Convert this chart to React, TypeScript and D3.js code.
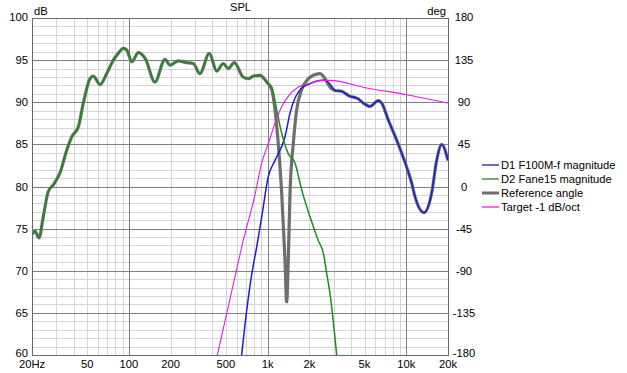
import { useEffect, useRef } from "react";
import * as d3 from "d3";

type Pt = [number, number];

// D2 and the reference run together below ~900 Hz
const lowBand: Pt[] = [
  [20, 74.3], [21, 74.7], [22.5, 73.9], [24.1, 76.4], [26.2, 79.4], [28.5, 80.2],
  [31.8, 81.6], [35.6, 84.3], [38.7, 85.9], [43.2, 87.1], [46.9, 89.9], [52.4, 92.8],
  [55.4, 93.1], [61.9, 92.1], [69.2, 93.4], [77.2, 95.0], [83.8, 95.8], [91, 96.4],
  [96.4, 96.2], [105, 94.8], [117, 95.9], [131, 95.2], [154, 92.4], [182, 95.1],
  [198, 94.4], [227, 94.9], [261, 94.7], [291, 94.6], [325, 93.4], [380, 95.8],
  [430, 93.7], [479, 94.6], [521, 94.0], [575, 94.7], [665, 93.0], [726, 92.8],
  [789, 93.1], [882, 93.2],
];

// reference through the crossover notch
const refMid: Pt[] = [
  [985, 92.4], [1071, 91.5], [1131, 89.1], [1194, 85.1], [1264, 79.2], [1335, 71.3],
  [1373, 66.3], [1410, 71.3], [1451, 79.2], [1532, 85.1], [1621, 89.1], [1762, 91.5],
  [1966, 92.8], [2136, 93.2], [2388, 93.4], [2594, 92.8], [2818, 91.8], [2978, 91.5],
  [3062, 91.4],
];

// D1 and the reference run together above ~3 kHz
const hiBand: Pt[] = [
  [3424, 91.3], [3930, 90.7], [4200, 90.6], [4510, 90.4], [4900, 89.9], [5476, 89.5],
  [6288, 90.2], [6652, 89.9], [7420, 87.9], [8532, 85.5], [10070, 82.3], [10944, 80.4],
  [11562, 78.8], [13424, 76.9], [15240, 79.2], [16570, 83.1], [18012, 85.0], [20000, 83.1],
];

const d1Rise: Pt[] = [
  [650, 60], [707, 65.3], [789, 70.7], [811, 71.7], [907, 76.4], [1012, 81.2],
  [1131, 83.1], [1335, 85.9], [1451, 88.7], [1576, 90.5], [1762, 91.7], [2022, 92.2],
  [2456, 92.6], [2594, 92.6], [2900, 91.9], [3062, 91.4],
];

const d2Tail: Pt[] = [
  [985, 92.4], [1071, 91.8], [1163, 89.1], [1264, 86.3], [1410, 83.9], [1576, 82.8],
  [1762, 79.6], [2022, 76.4], [2320, 73.6], [2522, 72.1], [2668, 69.7], [2818, 67.3],
  [3150, 60],
];

const target: Pt[] = [
  [434, 60], [550, 67.5], [668, 73.6], [811, 79.0], [907, 82.8], [1012, 85.1],
  [1131, 87.5], [1264, 89.5], [1410, 90.7], [1665, 91.8], [1966, 92.2], [2456, 92.6],
  [2818, 92.6], [5186, 91.7], [10070, 90.9], [20000, 89.9],
];

const dbTicks = [60, 65, 70, 75, 80, 85, 90, 95, 100];
const degTicks = [-180, -135, -90, -45, 0, 45, 90, 135, 180];
const freqTicks = [20, 50, 100, 200, 500, 1000, 2000, 5000, 10000, 20000];
const freqLabels = ["20Hz", "50", "100", "200", "500", "1k", "2k", "5k", "10k", "20k"];
const legendNames = ["D1 F100M-f magnitude", "D2 Fane15 magnitude", "Reference angle", "Target -1 dB/oct"];

const FONT = "'Liberation Sans', Arial, sans-serif";

export default function App() {
  const ref = useRef<SVGSVGElement>(null);

  useEffect(() => {
    if (!ref.current) return;
    const svg = d3.select(ref.current);
    svg.selectAll("*").remove();

    const left = 32, right = 448, top = 18, bottom = 355;
    const x = d3.scaleLog().domain([20, 20000]).range([left, right]);
    const y = d3.scaleLinear().domain([60, 100]).range([bottom, top]);
    const yDeg = d3.scaleLinear().domain([-180, 180]).range([bottom, top]);
    const px = (v: number) => Math.round(v) + 0.5;
    // end labels sit a little inside the frame
    const labelY = (v: number) => (v >= top + 1 && v <= bottom - 1 ? v + 4 : v <= top + 1 ? v + 3 : v + 2);

    svg.append("rect").attr("width", 627).attr("height", 373).attr("fill", "#fff");

    // minor grid
    const g = svg.append("g");
    const minorF: number[] = [];
    for (const dec of [10, 100, 1000, 10000]) {
      for (let m = 2; m <= 9; m++) {
        const f = dec * m;
        if (f > 20 && f < 20000) minorF.push(f);
      }
    }
    g.selectAll(".vmin").data(minorF).enter().append("line")
      .attr("x1", (d) => px(x(d))).attr("x2", (d) => px(x(d)))
      .attr("y1", top).attr("y2", bottom)
      .attr("stroke", "#d4d4d4");
    g.selectAll(".hmin").data(d3.range(61, 100).filter((d) => d % 5 !== 0)).enter().append("line")
      .attr("x1", left).attr("x2", right)
      .attr("y1", (d) => px(y(d))).attr("y2", (d) => px(y(d)))
      .attr("stroke", "#d4d4d4");

    // major grid
    g.selectAll(".vmaj").data([100, 1000, 10000]).enter().append("line")
      .attr("x1", (d) => px(x(d))).attr("x2", (d) => px(x(d)))
      .attr("y1", top).attr("y2", bottom)
      .attr("stroke", "#808080");
    g.selectAll(".hmaj").data(dbTicks.slice(1, -1)).enter().append("line")
      .attr("x1", left).attr("x2", right)
      .attr("y1", (d) => px(y(d))).attr("y2", (d) => px(y(d)))
      .attr("stroke", "#808080");

    svg.append("rect")
      .attr("x", left + 0.5).attr("y", top + 0.5)
      .attr("width", right - left).attr("height", bottom - top)
      .attr("fill", "none").attr("stroke", "#6a6a6a");

    // curves
    svg.append("clipPath").attr("id", "plot").append("rect")
      .attr("x", left).attr("y", top).attr("width", right - left).attr("height", bottom - top);
    const line = d3.line<Pt>()
      .x((d) => x(d[0]))
      .y((d) => y(d[1]))
      .curve(d3.curveMonotoneX);
    const curves = svg.append("g").attr("clip-path", "url(#plot)").attr("fill", "none");

    curves.append("path").attr("d", line([...lowBand, ...refMid, ...hiBand]))
      .attr("stroke", "#6e6e6e").attr("stroke-width", 3.2).attr("stroke-linejoin", "round");
    curves.append("path").attr("d", line([...d1Rise, ...hiBand]))
      .attr("stroke", "#1c1cd8").attr("stroke-width", 1.5);
    curves.append("path").attr("d", line([...lowBand, ...d2Tail]))
      .attr("stroke", "#1f8a1f").attr("stroke-width", 1.5);
    curves.append("path").attr("d", line(target))
      .attr("stroke", "#e020e0").attr("stroke-width", 1.1);

    // axis labels
    const txt = svg.append("g").attr("font-family", FONT).attr("font-size", 11.2).attr("fill", "#000");
    txt.selectAll(".yl").data(dbTicks).enter().append("text")
      .attr("x", 28).attr("y", (d) => labelY(y(d))).attr("text-anchor", "end")
      .text((d) => d);
    txt.selectAll(".yr").data(degTicks).enter().append("text")
      .attr("x", 464).attr("y", (d) => labelY(yDeg(d))).attr("text-anchor", "middle")
      .text((d) => d);
    txt.selectAll(".xl").data(freqTicks).enter().append("text")
      .attr("x", (d) => x(d)).attr("y", 368).attr("text-anchor", "middle")
      .text((d, i) => freqLabels[i]);
    txt.append("text").attr("x", 34).attr("y", 15).text("dB");
    txt.append("text").attr("x", 240.5).attr("y", 11).attr("text-anchor", "middle").text("SPL");
    txt.append("text").attr("x", 446).attr("y", 15).attr("text-anchor", "end").text("deg");

    // legend
    const legendColors = ["#1c1cb0", "#1f8a1f", "#6e6e6e", "#e020e0"];
    const legendWidths = [1.3, 1.3, 3, 1.3];
    const lg = svg.append("g");
    legendNames.forEach((name, i) => {
      const ly = 165 + i * 14;
      lg.append("line").attr("x1", 482).attr("x2", 499).attr("y1", ly).attr("y2", ly)
        .attr("stroke", legendColors[i]).attr("stroke-width", legendWidths[i]);
      lg.append("text").attr("x", 501).attr("y", ly + 4)
        .attr("font-family", FONT).attr("font-size", 11.2).text(name);
    });
  }, []);

  return (
    <svg ref={ref} width={627} height={373}
      style={{ position: "absolute", left: 0, top: 0, display: "block" }} />
  );
}
